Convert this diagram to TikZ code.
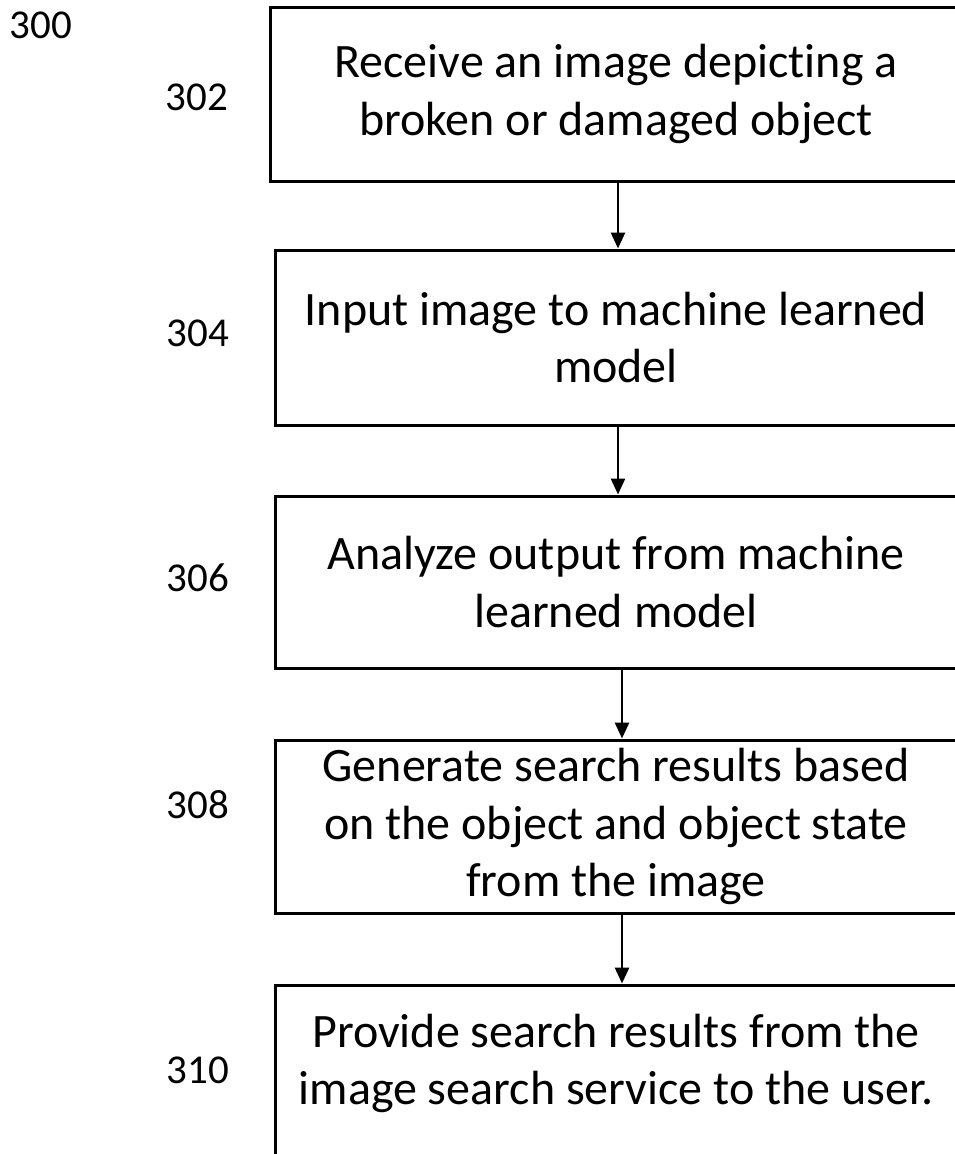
\documentclass[tikz,border=0pt]{standalone}
\usepackage{fontspec}
\setmainfont{Carlito}[Ligatures=NoCommon]
\usetikzlibrary{arrows.meta}
\begin{document}
\begin{tikzpicture}[x=1pt,y=-1pt,
  stepbox/.style={draw, line width=3pt, align=center, inner sep=0pt,
    font=\fontsize{48}{57.5}\selectfont},
  lbl/.style={font=\fontsize{41}{48}\selectfont, inner sep=0pt},
  arr/.style={line width=2.8pt, -{Triangle[length=16pt,width=14pt]}}]
\useasboundingbox (0,0) rectangle (955,1154);
\node[lbl] (l300) at (41,25) {300};
\node[lbl] (l302) at (197,97) {302};
\node[lbl] (l304) at (198,333) {304};
\node[lbl] (l306) at (198,578) {306};
\node[lbl] (l308) at (198,805) {308};
\node[lbl] (l310) at (198,1070) {310};
\node[stepbox, minimum width=692pt, minimum height=174pt] (b1) at (616,94)
  {Receive an image depicting a\\broken or damaged object};
\node[stepbox, minimum width=682pt, minimum height=175pt] (b2) at (616,337.5)
  {Input image to machine learned\\model};
\node[stepbox, minimum width=682pt, minimum height=172pt] (b3) at (616,582)
  {Analyze output from machine\\learned model};
\node[stepbox, minimum width=682pt, minimum height=173pt] (b4) at (616,826.5)
  {Generate search results based\\on the object and object state\\from the image};
\node[stepbox, minimum width=682pt, minimum height=206pt] (b5) at (616,1088)
  {Provide search results from the\\image search service to the user.\\\mbox{}};
\coordinate (a1) at (618,0);
\coordinate (a2) at (622,0);
\draw[arr] (b1.south -| a1) -- (b2.north -| a1);
\draw[arr] (b2.south -| a1) -- (b3.north -| a1);
\draw[arr] (b3.south -| a2) -- (b4.north -| a2);
\draw[arr] (b4.south -| a2) -- (b5.north -| a2);
\end{tikzpicture}
\end{document}
